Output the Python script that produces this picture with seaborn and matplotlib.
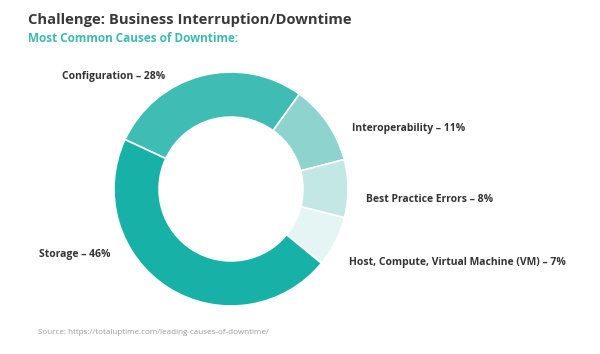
import matplotlib
matplotlib.use("Agg")
import matplotlib.pyplot as plt
import seaborn as sns

sns.set_theme(style="white")
plt.rcParams['font.family'] = ['Open Sans', 'DejaVu Sans']

categories = ["Configuration", "Interoperability", "Best Practice Errors",
              "Host, Compute, Virtual Machine (VM)", "Storage"]
values = [28, 11, 8, 7, 46]
colors = ["#3fbdb5", "#8fd3ce", "#c3e7e5", "#e5f5f4", "#17b1a8"]

W, H = 600, 354
fig = plt.figure(figsize=(W / 100, H / 100), dpi=100)
fig.patch.set_facecolor("white")

def fx(px):
    return px / W

def fy(py):
    return 1 - py / H

# donut axes: center (231,189), radius 117 px
cx, cy, r = 231, 189, 117
ax = fig.add_axes([fx(cx - r), fy(cy + r), 2 * r / W, 2 * r / H])
ax.pie(values, colors=colors, startangle=155, counterclock=False,
       radius=1.0, wedgeprops=dict(width=0.385, edgecolor="white", linewidth=1.2))
ax.set_xlim(-1, 1)
ax.set_ylim(-1, 1)
ax.set_aspect("equal")
ax.axis("off")

label_pos = {
    "Configuration": (62, 76, "left"),
    "Interoperability": (352, 129, "left"),
    "Best Practice Errors": (366, 199, "left"),
    "Host, Compute, Virtual Machine (VM)": (349, 262, "left"),
    "Storage": (39, 255, "left"),
}
for cat, v in zip(categories, values):
    x, y, ha = label_pos[cat]
    fig.text(fx(x), fy(y), f"{cat} \u2013 {v}%", ha=ha, va="center",
             fontsize=7.5, fontweight="bold", color="#333333")

fig.text(fx(28), fy(20), "Challenge: Business Interruption/Downtime", ha="left",
         va="center", fontsize=10.6, fontweight="bold", color="#3a3a3a")
fig.text(fx(28), fy(38), "Most Common Causes of Downtime:", ha="left",
         va="center", fontsize=8.5, fontweight="bold", color="#3dbab2")
fig.text(fx(38), fy(333), "Source: https://totaluptime.com/leading-causes-of-downtime/",
         ha="left", va="center", fontsize=5.8, color="#9a9a9a")

fig.savefig("out.png", dpi=100, facecolor="white")
